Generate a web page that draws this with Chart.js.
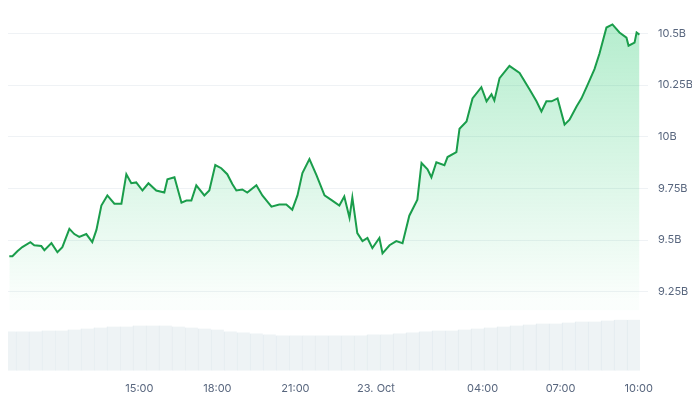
<!DOCTYPE html>
<html>
<head>
<meta charset="utf-8">
<script src="https://cdn.jsdelivr.net/npm/chart.js@4/dist/chart.umd.min.js"></script>
<style>
  html, body { margin: 0; background: #fff; }
  #wrap { width: 700px; height: 400px; }
</style>
</head>
<body>
<div id="wrap"><canvas id="c"></canvas></div>
<script>
// ----- data (hours since ~10:00 on 22 Oct, market cap in billions) -----
const hours = [0, .12, .31, .5, .81, .96, 1.23, 1.35, 1.62, 1.85, 2.04, 2.31, 2.5, 2.69, 2.96, 3.19,
  3.35, 3.54, 3.77, 4.04, 4.31, 4.5, 4.69, 4.88, 5.12, 5.35, 5.65, 5.96, 6.08, 6.35, 6.62, 6.81,
  7, 7.19, 7.5, 7.69, 7.92, 8.15, 8.38, 8.58, 8.73, 8.96, 9.15, 9.5, 9.73, 10.08, 10.38, 10.65,
  10.88, 11.08, 11.27, 11.54, 11.81, 12.12, 12.42, 12.69, 12.88, 13.08, 13.19, 13.38, 13.58, 13.77,
  13.96, 14.23, 14.35, 14.62, 14.88, 15.12, 15.38, 15.69, 15.85, 16.08, 16.23, 16.42, 16.73, 16.85,
  17.19, 17.31, 17.58, 17.81, 18.15, 18.35, 18.54, 18.65, 18.85, 19.23, 19.62, 20, 20.27, 20.46,
  20.65, 20.85, 21.08, 21.35, 21.54, 21.81, 22, 22.23, 22.5, 22.69, 22.96, 23.19, 23.46, 23.73,
  23.81, 24.04, 24.12, 24.23];
const marketCap = [9.422, 9.422, 9.446, 9.466, 9.490, 9.475, 9.471, 9.451, 9.485, 9.441, 9.466, 9.554, 9.529, 9.515, 9.529, 9.490,
  9.549, 9.667, 9.716, 9.676, 9.676, 9.819, 9.775, 9.779, 9.740, 9.775, 9.740, 9.730, 9.794, 9.804, 9.681, 9.691,
  9.691, 9.765, 9.716, 9.740, 9.863, 9.848, 9.819, 9.770, 9.740, 9.745, 9.730, 9.765, 9.716, 9.662, 9.672, 9.672,
  9.647, 9.716, 9.824, 9.892, 9.814, 9.716, 9.691, 9.667, 9.711, 9.608, 9.706, 9.534, 9.495, 9.510,
  9.461, 9.510, 9.436, 9.475, 9.495, 9.485, 9.618, 9.696, 9.873, 9.843, 9.804, 9.877, 9.862, 9.902,
  9.926, 10.039, 10.074, 10.186, 10.240, 10.172, 10.206, 10.176, 10.284, 10.343, 10.309, 10.230, 10.172, 10.123,
  10.172, 10.172, 10.186, 10.059, 10.083, 10.147, 10.186, 10.250, 10.328, 10.402, 10.529, 10.544, 10.505, 10.480,
  10.441, 10.456, 10.505, 10.495];

const volHours = [0, .5, 1, 1.5, 2, 2.5, 3, 3.5, 4, 4.5, 5, 5.5, 6, 6.5, 7, 7.5, 8, 8.5, 9, 9.5, 10, 10.5, 11, 11.5,
  12, 12.5, 13, 13.5, 14, 14.5, 15, 15.5, 16, 16.5, 17, 17.5, 18, 18.5, 19, 19.5, 20, 20.5, 21, 21.5, 22, 22.5, 23, 23.5, 24];
const volume = [.40, .40, .40, .41, .41, .42, .43, .44, .45, .45, .46, .46, .46, .45, .44, .43, .42, .40, .39, .38,
  .37, .36, .36, .36, .36, .36, .36, .36, .37, .37, .38, .39, .40, .41, .41, .42, .43, .44, .45, .46,
  .47, .48, .48, .49, .50, .50, .51, .52, .52];

const xTicks = [5, 8, 11, 14.1, 18.2, 21.2, 24.2];
const xLabels = ["15:00", "18:00", "21:00", "23. Oct", "04:00", "07:00", "10:00"];
const yTicks = [9.25, 9.5, 9.75, 10, 10.25, 10.5];

const ctx = document.getElementById("c").getContext("2d");
const grad = ctx.createLinearGradient(0, 20, 0, 300);
grad.addColorStop(0, "rgba(22,199,100,0.32)");
grad.addColorStop(1, "rgba(22,199,100,0.02)");

new Chart(ctx, {
  data: {
    datasets: [
      {
        type: "line",
        data: hours.map((h, i) => ({ x: h, y: marketCap[i] })),
        borderColor: "#1a9d4b",
        borderWidth: 2,
        backgroundColor: grad,
        fill: { target: { value: 9.16 } },
        pointRadius: 0,
        tension: 0,
        yAxisID: "y",
        order: 1
      },
      {
        type: "bar",
        data: volHours.map((h, i) => ({ x: h, y: volume[i] })),
        backgroundColor: "#eef3f5",
        borderColor: "#e2eaee",
        borderWidth: { left: 1 },
        barThickness: 13,
        yAxisID: "y1",
        order: 2
      }
    ]
  },
  options: {
    responsive: true,
    maintainAspectRatio: false,
    animation: false,
    layout: { padding: { top: 0, left: 8, right: 8, bottom: 2 } },
    plugins: { legend: { display: false }, tooltip: { enabled: false } },
    scales: {
      x: {
        type: "linear",
        offset: false,
        min: -0.05,
        max: 24.25,
        grid: { display: false },
        border: { display: false },
        afterBuildTicks: s => { s.ticks = xTicks.map(v => ({ value: v })); },
        ticks: {
          autoSkip: false, maxRotation: 0,
          color: "#58667e", font: { family: "Inter", size: 11 },
          callback: v => xLabels[xTicks.indexOf(v)]
        }
      },
      y: {
        position: "right",
        min: 8.867,
        max: 10.582,
        grid: { color: "#eff2f5" },
        border: { display: false },
        afterBuildTicks: s => { s.ticks = yTicks.map(v => ({ value: v })); },
        afterFit: s => { s.width = 52; },
        ticks: {
          color: "#58667e", font: { family: "Inter", size: 11 }, padding: 10,
          callback: v => v + "B"
        }
      },
      y1: {
        display: false,
        min: 0,
        max: 3.6
      }
    }
  }
});
</script>
</body>
</html>
